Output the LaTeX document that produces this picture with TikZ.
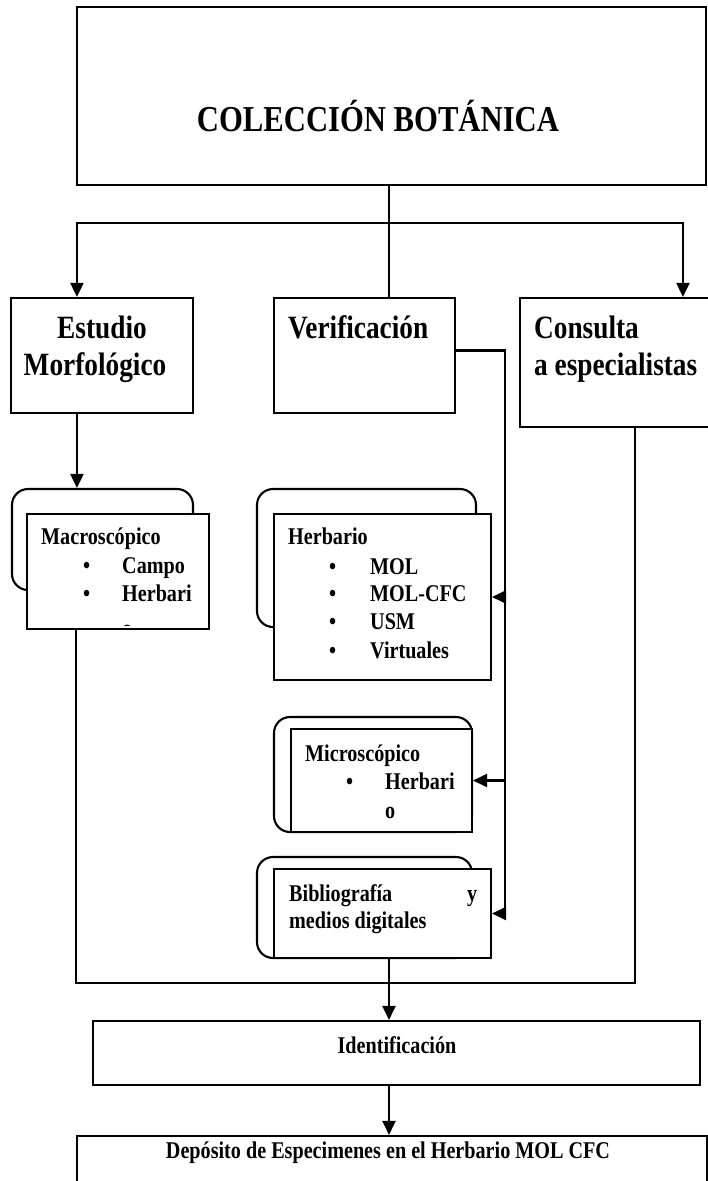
\documentclass[tikz,border=0pt]{standalone}
\usepackage{fontspec}
\setmainfont{Liberation Serif}[FakeStretch=0.84]
\usetikzlibrary{arrows.meta,calc}
\begin{document}
\begin{tikzpicture}[x=1pt,y=-1pt,
  ln/.style={line width=2.1pt},
  arr/.style={line width=2.1pt,-{Triangle[length=14pt,width=13pt]}},
  box/.style={draw,line width=2.1pt,fill=white,rectangle,inner sep=0pt},
  rbox/.style={box,rounded corners=16pt},
  txt/.style={inner sep=0pt},
  big/.style={txt,font=\fontsize{36.5}{40}\selectfont\bfseries},
  hd/.style={txt,font=\fontsize{32.5}{36}\selectfont\bfseries},
  sm/.style={txt,font=\fontsize{24}{27}\selectfont\bfseries}]
\useasboundingbox (0,0) rectangle (708,1181);
\fill[white] (0,0) rectangle (708,1181);

% boxes
\node[box,minimum width=629pt,minimum height=178pt] (top) at (391.5,96) {};
\node[box,minimum width=182pt,minimum height=115pt] (estudio) at (102,355.5) {};
\node[box,minimum width=181pt,minimum height=115pt] (verif) at (364.5,355.5) {};
\node[box,minimum width=192pt,minimum height=129pt] (consulta) at (616,362.5) {};

\node[rbox,minimum width=181pt,minimum height=101pt] (macroB) at (102.5,539.5) {};
\node[box,minimum width=182pt,minimum height=115pt] (macroF) at (118,571.5) {};
\node[rbox,minimum width=219pt,minimum height=138pt] (herbB) at (366.5,558) {};
\node[box,minimum width=217pt,minimum height=166pt] (herbF) at (382.5,597) {};
\node[rbox,minimum width=198pt,minimum height=115pt] (microB) at (373,774.5) {};
\node[box,minimum width=181pt,minimum height=103pt] (microF) at (381.5,780.5) {};
\node[rbox,minimum width=215pt,minimum height=101pt] (biblioB) at (364.5,907.5) {};
\node[box,minimum width=217pt,minimum height=89pt] (biblioF) at (382.5,913.5) {};

\node[box,minimum width=607pt,minimum height=64pt] (ident) at (396.5,1053) {};
\node[box,minimum width=630pt,minimum height=64pt] (dep) at (392,1168) {};

% connectors
\coordinate (ax) at (389,0);
\coordinate (J) at (ax |- 0,223);
\draw[ln] (top.south -| ax) -- (verif.north -| ax);
\draw[arr] (J) -| ($(estudio.north west)+(67,0)$);
\draw[arr] (J) -| ($(consulta.north west)+(164,0)$);
\coordinate (eS) at ($(estudio.south west)+(67,0)$);
\draw[arr] (eS) -- (eS |- macroB.north);

\coordinate (vb) at ($(verif.east)+(49,-5)$);
\draw[arr] (verif.east |- vb) -- (vb) -- (vb |- biblioF.east) -- (biblioF.east);
\draw[arr] (vb |- herbF.east) -- (herbF.east);
\draw[arr] (vb |- microF.east) -- (microF.east);

\coordinate (mS) at ($(macroF.south west)+(50,0)$);
\coordinate (cS) at ($(consulta.south west)+(116,0)$);
\draw[ln] (mS) -- (mS |- 0,983) -- (cS |- 0,983) -- (cS);

\draw[arr] (biblioF.south -| ax) -- (ident.north -| ax);
\draw[arr] (ident.south -| ax) -- (dep.north -| ax);

% texts
\node[big,anchor=base] (tT) at (378,131) {COLECCIÓN BOTÁNICA};
\node[hd,anchor=base] (eT1) at (102,338) {Estudio};
\node[hd,anchor=base] (eT2) at (95,375) {Morfológico};
\node[hd,anchor=base west] (vT) at (288,338) {Verificación};
\node[hd,anchor=base west] (cT1) at (534,338) {Consulta};
\node[hd,anchor=base west] (cT2) at (534,375) {a especialistas};

\node[sm,anchor=base west] (maT) at (41,544) {Macroscópico};
\node[sm,anchor=base west] (maB1) at (83,573) {\textbullet};
\node[sm,anchor=base west] (maI1) at (122,573) {Campo};
\node[sm,anchor=base west] (maB2) at (83,601) {\textbullet};
\node[sm,anchor=base west] (maI2) at (122,601) {Herbari};
\begin{scope}
\clip (macroF.north west) rectangle ($(macroF.south east)+(0,-4.5)$);
\node[sm,anchor=base west] (maI3) at (122,636.5) {o};
\end{scope}

\node[sm,anchor=base west] (hT) at (288,544) {Herbario};
\node[sm,anchor=base west] (hB1) at (329,574) {\textbullet};
\node[sm,anchor=base west] (hI1) at (370,574) {MOL};
\node[sm,anchor=base west] (hB2) at (329,601) {\textbullet};
\node[sm,anchor=base west] (hI2) at (370,601) {MOL-CFC};
\node[sm,anchor=base west] (hB3) at (329,629) {\textbullet};
\node[sm,anchor=base west] (hI3) at (370,629) {USM};
\node[sm,anchor=base west] (hB4) at (329,658) {\textbullet};
\node[sm,anchor=base west] (hI4) at (370,658) {Virtuales};

\node[sm,anchor=base west] (miT) at (305,761) {Microscópico};
\node[sm,anchor=base west] (miB1) at (346,789) {\textbullet};
\node[sm,anchor=base west] (miI1) at (385,789) {Herbari};
\node[sm,anchor=base west] (miI2) at (385,818) {o};

\node[sm,anchor=base west] (bT1) at (289,901) {Bibliografía};
\node[sm,anchor=base west] (bT2) at (467,901) {y};
\node[sm,anchor=base west] (bT3) at (289,928) {medios digitales};

\node[sm,anchor=base] (iT) at (397,1053) {Identificación};
\node[sm,anchor=base] (dT) at (388,1158) {Depósito de Especimenes en el Herbario MOL CFC};
\end{tikzpicture}
\end{document}
